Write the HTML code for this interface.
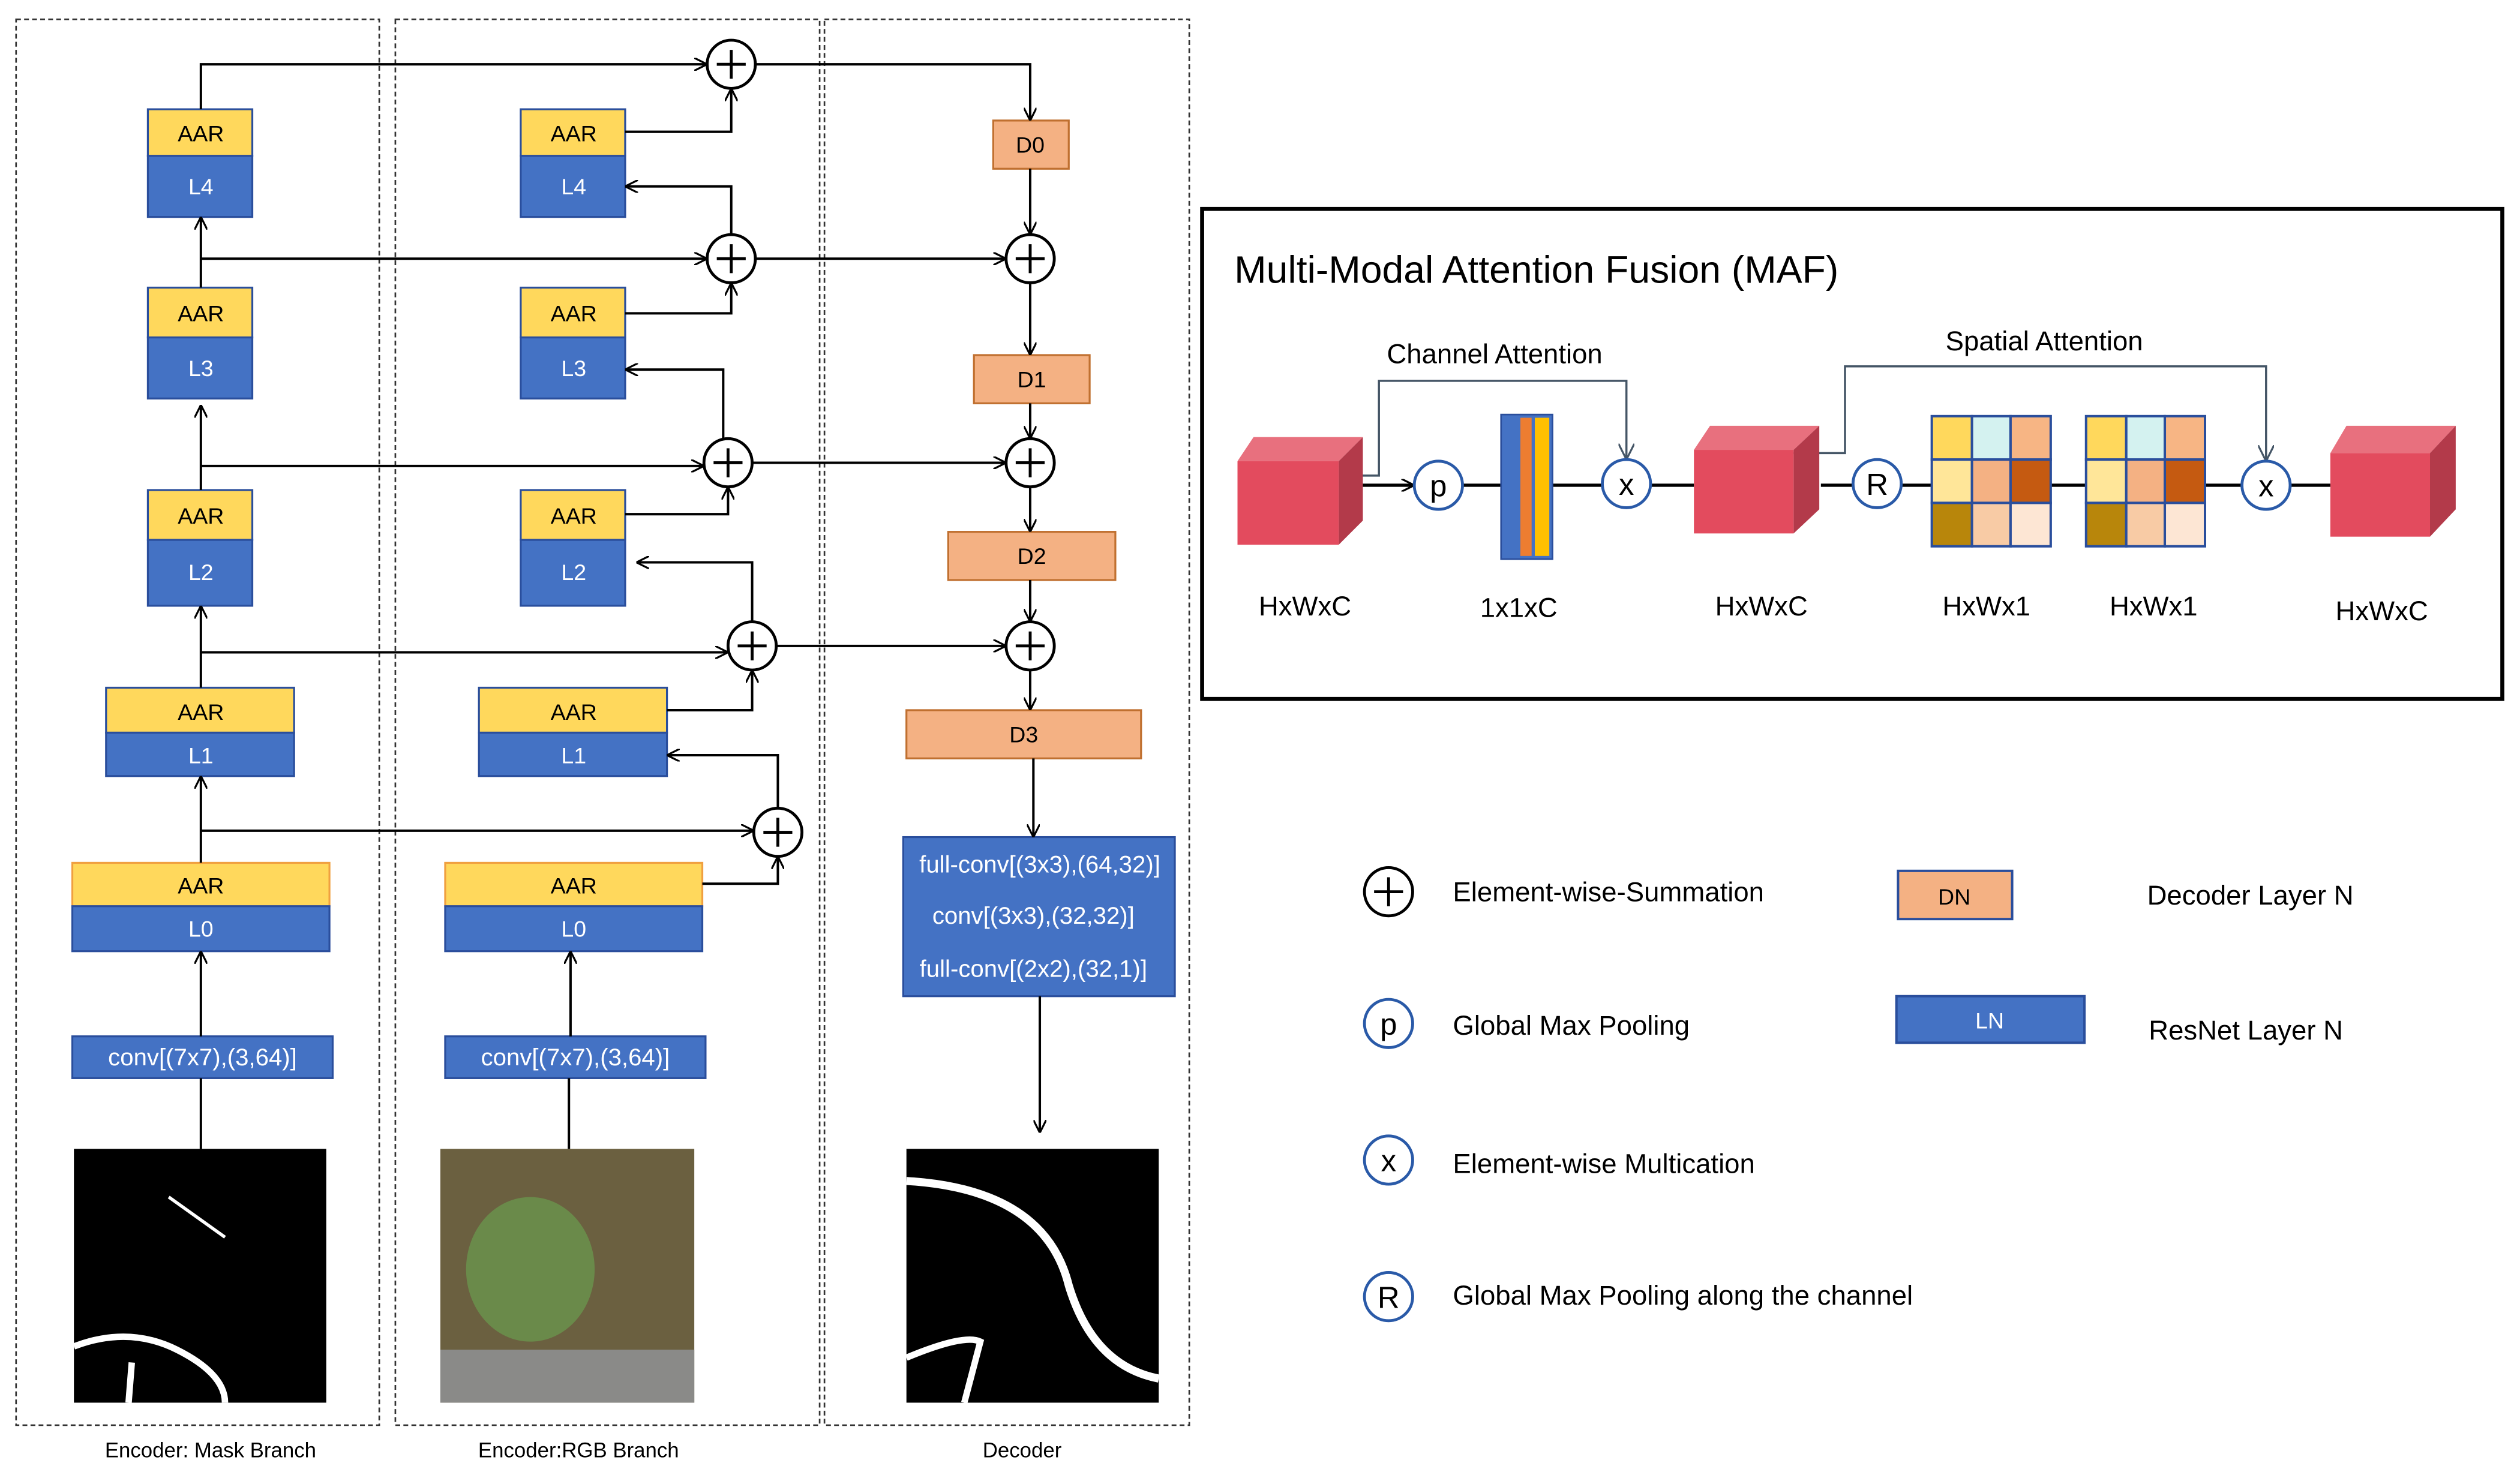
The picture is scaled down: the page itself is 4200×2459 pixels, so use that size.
<!DOCTYPE html>
<html><head><style>html,body{margin:0;padding:0;background:#fff}svg{display:block}text{font-family:"Liberation Sans",Arial,sans-serif}</style></head>
<body>
<svg width="4200" height="2459" viewBox="0 0 1568 918" xmlns="http://www.w3.org/2000/svg">
<defs>
<marker id="a" viewBox="0 0 10 10" refX="10" refY="5" markerWidth="8" markerHeight="8" markerUnits="userSpaceOnUse" orient="auto"><path d="M0,0 L10,5 L0,10" fill="none" stroke="#000" stroke-width="1.5"/></marker>
<marker id="g" viewBox="0 0 10 10" refX="10" refY="5" markerWidth="10" markerHeight="10" markerUnits="userSpaceOnUse" orient="auto"><path d="M0,0 L10,5 L0,10" fill="none" stroke="#445566" stroke-width="1.2"/></marker>
</defs>
<rect width="1568" height="918" fill="#fff"/>
<g fill="none" stroke="#333" stroke-width="1" stroke-dasharray="3,2">
<rect x="10" y="12" width="226" height="875"/><rect x="246" y="12" width="264" height="875"/><rect x="513" y="12" width="227" height="875"/>
</g>
<g font-size="13" text-anchor="middle" fill="#000">
<text x="131" y="907">Encoder: Mask Branch</text><text x="360" y="907">Encoder:RGB Branch</text><text x="636" y="907">Decoder</text>
</g>
<!-- blocks -->
<g stroke="#2a4e9c" stroke-width="1.2" font-size="14" text-anchor="middle">
<g id="m">
<rect x="92" y="68" width="65" height="29" fill="#ffd85c"/><rect x="92" y="97" width="65" height="38" fill="#4472c4"/>
<rect x="92" y="179" width="65" height="31" fill="#ffd85c"/><rect x="92" y="210" width="65" height="38" fill="#4472c4"/>
<rect x="92" y="305" width="65" height="31" fill="#ffd85c"/><rect x="92" y="336" width="65" height="41" fill="#4472c4"/>
<rect x="66" y="428" width="117" height="28" fill="#ffd85c"/><rect x="66" y="456" width="117" height="27" fill="#4472c4"/>
<rect x="45" y="537" width="160" height="27" fill="#ffd85c" stroke="#f0a040"/><rect x="45" y="564" width="160" height="28" fill="#4472c4"/>
<rect x="45" y="645" width="162" height="26" fill="#4472c4"/>
</g>
<rect x="324" y="68" width="65" height="29" fill="#ffd85c"/><rect x="324" y="97" width="65" height="38" fill="#4472c4"/>
<rect x="324" y="179" width="65" height="31" fill="#ffd85c"/><rect x="324" y="210" width="65" height="38" fill="#4472c4"/>
<rect x="324" y="305" width="65" height="31" fill="#ffd85c"/><rect x="324" y="336" width="65" height="41" fill="#4472c4"/>
<rect x="298" y="428" width="117" height="28" fill="#ffd85c"/><rect x="298" y="456" width="117" height="27" fill="#4472c4"/>
<rect x="277" y="537" width="160" height="27" fill="#ffd85c" stroke="#f0a040"/><rect x="277" y="564" width="160" height="28" fill="#4472c4"/>
<rect x="277" y="645" width="162" height="26" fill="#4472c4"/>
<g fill="#f4b183" stroke="#c07030">
<rect x="618" y="75" width="47" height="30"/><rect x="606" y="221" width="72" height="30"/><rect x="590" y="331" width="104" height="30"/><rect x="564" y="442" width="146" height="30"/>
</g>
<rect x="562" y="521" width="169" height="99" fill="#4472c4"/>
</g>
<g font-size="14" text-anchor="middle" fill="#000">
<text x="125" y="88">AAR</text><text x="125" y="200">AAR</text><text x="125" y="326">AAR</text><text x="125" y="448">AAR</text><text x="125" y="556">AAR</text>
<text x="357" y="88">AAR</text><text x="357" y="200">AAR</text><text x="357" y="326">AAR</text><text x="357" y="448">AAR</text><text x="357" y="556">AAR</text>
<text x="641" y="95">D0</text><text x="642" y="241">D1</text><text x="642" y="351">D2</text><text x="637" y="462">D3</text>
</g>
<g font-size="14" text-anchor="middle" fill="#fff">
<text x="125" y="121">L4</text><text x="125" y="234">L3</text><text x="125" y="361">L2</text><text x="125" y="475">L1</text><text x="125" y="583">L0</text>
<text x="357" y="121">L4</text><text x="357" y="234">L3</text><text x="357" y="361">L2</text><text x="357" y="475">L1</text><text x="357" y="583">L0</text>
<text x="126" y="663" font-size="15">conv[(7x7),(3,64)]</text><text x="358" y="663" font-size="15">conv[(7x7),(3,64)]</text>
<text x="647" y="543" font-size="15">full-conv[(3x3),(64,32)]</text><text x="643" y="575" font-size="15">conv[(3x3),(32,32)]</text><text x="643" y="608" font-size="15">full-conv[(2x2),(32,1)]</text>
</g>
<!-- images -->
<rect x="46" y="715" width="157" height="158" fill="#000"/>
<path d="M46,838 Q80,825 110,840 T140,873" stroke="#fff" stroke-width="4" fill="none"/><path d="M82,848 L80,873" stroke="#fff" stroke-width="4"/><path d="M105,745 L140,770" stroke="#fff" stroke-width="2"/>
<rect x="274" y="715" width="158" height="158" fill="#6b6040"/>
<ellipse cx="330" cy="790" rx="40" ry="45" fill="#6a8a4a"/><rect x="274" y="840" width="158" height="33" fill="#8a8a88"/>
<rect x="564" y="715" width="157" height="158" fill="#000"/>
<path d="M564,735 Q650,740 665,800 Q680,850 721,858" stroke="#fff" stroke-width="5" fill="none"/><path d="M564,845 Q600,830 610,835 L600,873" stroke="#fff" stroke-width="4" fill="none"/>
<!-- connectors -->
<g stroke="#000" stroke-width="1.5" fill="none">
<path d="M125,68 V40 H440" marker-end="url(#a)"/><path d="M470,40 H641 V75" marker-end="url(#a)"/>
<path d="M389,82 H455 V55" marker-end="url(#a)"/><path d="M455,146 V116 H389" marker-end="url(#a)"/>
<path d="M125,179 V135" marker-end="url(#a)"/><path d="M125,161 H440" marker-end="url(#a)"/><path d="M470,161 H626" marker-end="url(#a)"/>
<path d="M389,195 H455 V176" marker-end="url(#a)"/><path d="M450,273 V230 H389" marker-end="url(#a)"/>
<path d="M125,305 V252" marker-end="url(#a)"/><path d="M125,290 H438" marker-end="url(#a)"/><path d="M468,288 H626" marker-end="url(#a)"/>
<path d="M389,320 H453 V303" marker-end="url(#a)"/><path d="M468,387 V350 H396" marker-end="url(#a)"/>
<path d="M125,428 V377" marker-end="url(#a)"/><path d="M125,406 H453" marker-end="url(#a)"/><path d="M483,402 H626" marker-end="url(#a)"/>
<path d="M415,442 H468 V417" marker-end="url(#a)"/><path d="M484,503 V470 H415" marker-end="url(#a)"/>
<path d="M125,537 V483" marker-end="url(#a)"/><path d="M125,517 H469" marker-end="url(#a)"/>
<path d="M437,550 H484 V533" marker-end="url(#a)"/>
<path d="M125,715 V671"/><path d="M125,645 V592" marker-end="url(#a)"/>
<path d="M354,715 V671"/><path d="M355,645 V592" marker-end="url(#a)"/>
<path d="M641,105 V146" marker-end="url(#a)"/><path d="M641,176 V221" marker-end="url(#a)"/><path d="M641,251 V273" marker-end="url(#a)"/><path d="M641,303 V331" marker-end="url(#a)"/><path d="M641,361 V387" marker-end="url(#a)"/><path d="M641,417 V442" marker-end="url(#a)"/><path d="M643,472 V521" marker-end="url(#a)"/><path d="M647,620 V705" marker-end="url(#a)"/>
</g>
<g stroke="#000" stroke-width="1.8" fill="#fff">
<g id="p"><circle cx="455" cy="40" r="15"/><path d="M446,40 H464 M455,31 V49"/></g>
<circle cx="455" cy="161" r="15"/><path d="M446,161 H464 M455,152 V170"/>
<circle cx="453" cy="288" r="15"/><path d="M444,288 H462 M453,279 V297"/>
<circle cx="468" cy="402" r="15"/><path d="M459,402 H477 M468,393 V411"/>
<circle cx="484" cy="518" r="15"/><path d="M475,518 H493 M484,509 V527"/>
<circle cx="641" cy="161" r="15"/><path d="M632,161 H650 M641,152 V170"/>
<circle cx="641" cy="288" r="15"/><path d="M632,288 H650 M641,279 V297"/>
<circle cx="641" cy="402" r="15"/><path d="M632,402 H650 M641,393 V411"/>
<circle cx="864" cy="555" r="15"/><path d="M855,555 H873 M864,546 V564"/>
</g>
<!-- MAF -->
<rect x="748" y="130" width="809" height="305" fill="none" stroke="#000" stroke-width="2.5"/>
<text x="768" y="176" font-size="24">Multi-Modal Attention Fusion  (MAF)</text>
<text x="930" y="226" font-size="17" text-anchor="middle">Channel Attention</text>
<text x="1272" y="218" font-size="17" text-anchor="middle">Spatial Attention</text>
<g stroke="#445566" stroke-width="1.3" fill="none">
<path d="M842,296 H858 V237 H1012 V286" marker-end="url(#g)"/>
<path d="M1116,282 H1148 V228 H1410 V287" marker-end="url(#g)"/>
</g>
<g stroke="#000" stroke-width="2" fill="none">
<path d="M848,302 H880" marker-end="url(#a)"/><path d="M910,302 H934 M966,302 H997 M1027,302 H1054 M1133,302 H1153 M1183,302 H1202 M1276,302 H1298 M1372,302 H1395 M1425,302 H1450"/>
</g>
<g id="c1"><polygon points="770,287 780,272 848,272 833,287" fill="#e8707e"/><polygon points="833,287 848,272 848,324 833,339" fill="#b33a4a"/><rect x="770" y="287" width="63" height="52" fill="#e34b5e"/></g>
<polygon points="1054,280 1064,265 1132,265 1116,280" fill="#e8707e"/><polygon points="1116,280 1132,265 1132,317 1116,332" fill="#b33a4a"/><rect x="1054" y="280" width="62" height="52" fill="#e34b5e"/>
<polygon points="1450,282 1460,265 1528,265 1512,282" fill="#e8707e"/><polygon points="1512,282 1528,265 1528,317 1512,334" fill="#b33a4a"/><rect x="1450" y="282" width="62" height="52" fill="#e34b5e"/>
<rect x="934" y="258" width="32" height="90" fill="#4472c4" stroke="#2a4e9c"/><rect x="946" y="260" width="7" height="86" fill="#ed7d31"/><rect x="955" y="260" width="9" height="86" fill="#ffc000"/>
<g stroke="#2a4e9c" stroke-width="1.5">
<rect x="1202" y="259" width="25" height="27" fill="#ffd85c"/><rect x="1227" y="259" width="24" height="27" fill="#d4f2f0"/><rect x="1251" y="259" width="25" height="27" fill="#f7b584"/>
<rect x="1202" y="286" width="25" height="27" fill="#ffe699"/><rect x="1227" y="286" width="24" height="27" fill="#f4b183"/><rect x="1251" y="286" width="25" height="27" fill="#c55a11"/>
<rect x="1202" y="313" width="25" height="27" fill="#b8860b"/><rect x="1227" y="313" width="24" height="27" fill="#f8cba5"/><rect x="1251" y="313" width="25" height="27" fill="#fde6d4"/>
<rect x="1298" y="259" width="25" height="27" fill="#ffd85c"/><rect x="1323" y="259" width="24" height="27" fill="#d4f2f0"/><rect x="1347" y="259" width="25" height="27" fill="#f7b584"/>
<rect x="1298" y="286" width="25" height="27" fill="#ffe699"/><rect x="1323" y="286" width="24" height="27" fill="#f4b183"/><rect x="1347" y="286" width="25" height="27" fill="#c55a11"/>
<rect x="1298" y="313" width="25" height="27" fill="#b8860b"/><rect x="1323" y="313" width="24" height="27" fill="#f8cba5"/><rect x="1347" y="313" width="25" height="27" fill="#fde6d4"/>
</g>
<g stroke="#2a5aa8" stroke-width="1.8" fill="#fff">
<circle cx="895" cy="302" r="15"/><circle cx="1012" cy="301" r="15"/><circle cx="1168" cy="301" r="15"/><circle cx="1410" cy="302" r="15"/>
<circle cx="864" cy="637" r="15"/><circle cx="864" cy="722" r="15"/><circle cx="864" cy="807" r="15"/>
</g>
<g font-size="19" text-anchor="middle">
<text x="895" y="309">p</text><text x="1012" y="308">x</text><text x="1168" y="308">R</text><text x="1410" y="309">x</text>
<text x="864" y="644">p</text><text x="864" y="729">x</text><text x="864" y="814">R</text>
</g>
<g font-size="17" text-anchor="middle">
<text x="812" y="383">HxWxC</text><text x="945" y="384">1x1xC</text><text x="1096" y="383">HxWxC</text><text x="1236" y="383">HxWx1</text><text x="1340" y="383">HxWx1</text><text x="1482" y="386">HxWxC</text>
</g>
<!-- legend -->
<rect x="1181" y="542" width="71" height="30" fill="#f4b183" stroke="#2a4e9c" stroke-width="1.5"/><text x="1216" y="563" font-size="14" text-anchor="middle">DN</text>
<rect x="1180" y="620" width="117" height="29" fill="#4472c4" stroke="#2a4e9c" stroke-width="1.5"/><text x="1238" y="640" font-size="14" text-anchor="middle" fill="#fff">LN</text>
<g font-size="17">
<text x="904" y="561">Element-wise-Summation</text><text x="1336" y="563">Decoder Layer N</text>
<text x="904" y="644">Global Max Pooling</text><text x="1337" y="647">ResNet Layer N</text>
<text x="904" y="730">Element-wise Multication</text>
<text x="904" y="812">Global Max Pooling along the channel</text>
</g>
</svg>
</body></html>
